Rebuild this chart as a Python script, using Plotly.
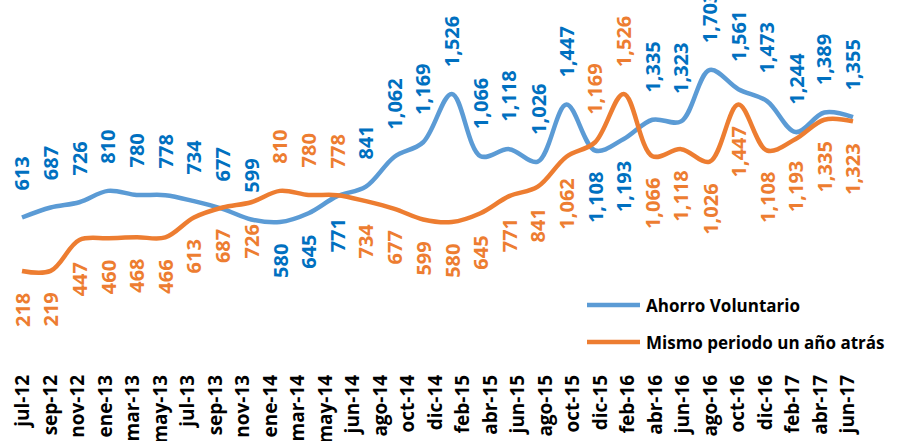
import plotly.graph_objects as go

# ---- data ----
tick_labels = ["jul-12", "sep-12", "nov-12", "ene-13", "mar-13", "may-13", "jul-13", "sep-13",
               "nov-13", "ene-14", "mar-14", "may-14", "jun-14", "ago-14", "oct-14", "dic-14",
               "feb-15", "abr-15", "jun-15", "ago-15", "oct-15", "dic-15", "feb-16", "abr-16",
               "jun-16", "ago-16", "oct-16", "dic-16", "feb-17", "abr-17", "jun-17"]
ahorro_voluntario = [613, 687, 726, 810, 780, 778, 734, 677, 599, 580, 645, 771, 841, 1062, 1169,
                     1526, 1066, 1118, 1026, 1447, 1108, 1193, 1335, 1323, 1703, 1561, 1473, 1244,
                     1389, 1355]
mismo_periodo = [218, 219, 447, 460, 468, 466, 613, 687, 726, 810, 780, 778, 734, 677, 599, 580,
                 645, 771, 841, 1062, 1169, 1526, 1066, 1118, 1026, 1447, 1108, 1193, 1335, 1323]
series_names = ["Ahorro Voluntario", "Mismo periodo un año atrás"]

# label placement (style): a = above, b = below
blue_place = ["a"] * 9 + ["b"] * 3 + ["a"] * 8 + ["b"] * 2 + ["a"] * 8
orange_place = ["b"] * 9 + ["a"] * 3 + ["b"] * 8 + ["a"] * 2 + ["b"] * 8

BLUE_LINE = "#5B9BD5"
ORANGE_LINE = "#ED7D31"
BLUE_TXT = "#0070C0"
ORANGE_TXT = "#ED7D31"
FONT = "Open Sans"

idx = list(range(len(ahorro_voluntario)))

fig = go.Figure()
fig.add_trace(go.Scatter(x=idx, y=ahorro_voluntario, mode="lines", name=series_names[0],
                         line=dict(color=BLUE_LINE, width=4.5, shape="spline", smoothing=1),
                         showlegend=False))
fig.add_trace(go.Scatter(x=idx, y=mismo_periodo, mode="lines", name=series_names[1],
                         line=dict(color=ORANGE_LINE, width=4.5, shape="spline", smoothing=1),
                         showlegend=False))
# invisible trace carrying the category tick labels
fig.add_trace(go.Scatter(x=tick_labels, y=[None] * len(tick_labels), xaxis="x2", mode="lines",
                         showlegend=False, hoverinfo="skip"))

annotations = []
GAP_ABOVE, GAP_BELOW = 25, 20
for vals, places, col in [(ahorro_voluntario, blue_place, BLUE_TXT),
                          (mismo_periodo, orange_place, ORANGE_TXT)]:
    for i, (v, p) in enumerate(zip(vals, places)):
        annotations.append(dict(
            x=i, y=v, xref="x", yref="y", text=f"{v:,}", showarrow=False, textangle=-90,
            xanchor="center", yanchor="bottom" if p == "a" else "top",
            yshift=GAP_ABOVE if p == "a" else -GAP_BELOW,
            font=dict(family=FONT, size=20, color=col, weight="bold")))

# legend drawn manually (lower right)
W, PH = 897, 370
leg_items = [(series_names[0], BLUE_LINE, 305), (series_names[1], ORANGE_LINE, 342)]
shapes = []
for name, col, py in leg_items:
    yp = 1 - py / PH
    shapes.append(dict(type="line", xref="paper", yref="paper", x0=587 / W, x1=640 / W,
                       y0=yp, y1=yp, line=dict(color=col, width=4.5)))
    annotations.append(dict(x=644 / W, y=yp, xref="paper", yref="paper", text=name,
                            showarrow=False, xanchor="left", yanchor="middle",
                            font=dict(family=FONT, size=17, color="black", weight="bold")))

fig.update_layout(
    width=897, height=441,
    margin=dict(l=0, r=0, t=0, b=71),
    paper_bgcolor="white", plot_bgcolor="white",
    xaxis=dict(range=[-0.768, 30.536], showgrid=False, zeroline=False, showticklabels=False,
               showline=False, fixedrange=True),
    xaxis2=dict(overlaying="x", side="bottom", anchor="y", type="category",
                categoryorder="array", categoryarray=tick_labels,
                range=[-0.836, 31.78], showgrid=False, zeroline=False, showline=False,
                tickangle=-90, ticks="", automargin=False,
                tickfont=dict(family=FONT, size=19, color="black", weight="bold")),
    yaxis=dict(range=[-513, 2219.5], showgrid=False, zeroline=False, showticklabels=False,
               showline=False, fixedrange=True),
    annotations=annotations, shapes=shapes,
    showlegend=False,
)

fig.write_html("out.html", config={"displayModeBar": False},
               post_script="document.body.style.margin='0';")
